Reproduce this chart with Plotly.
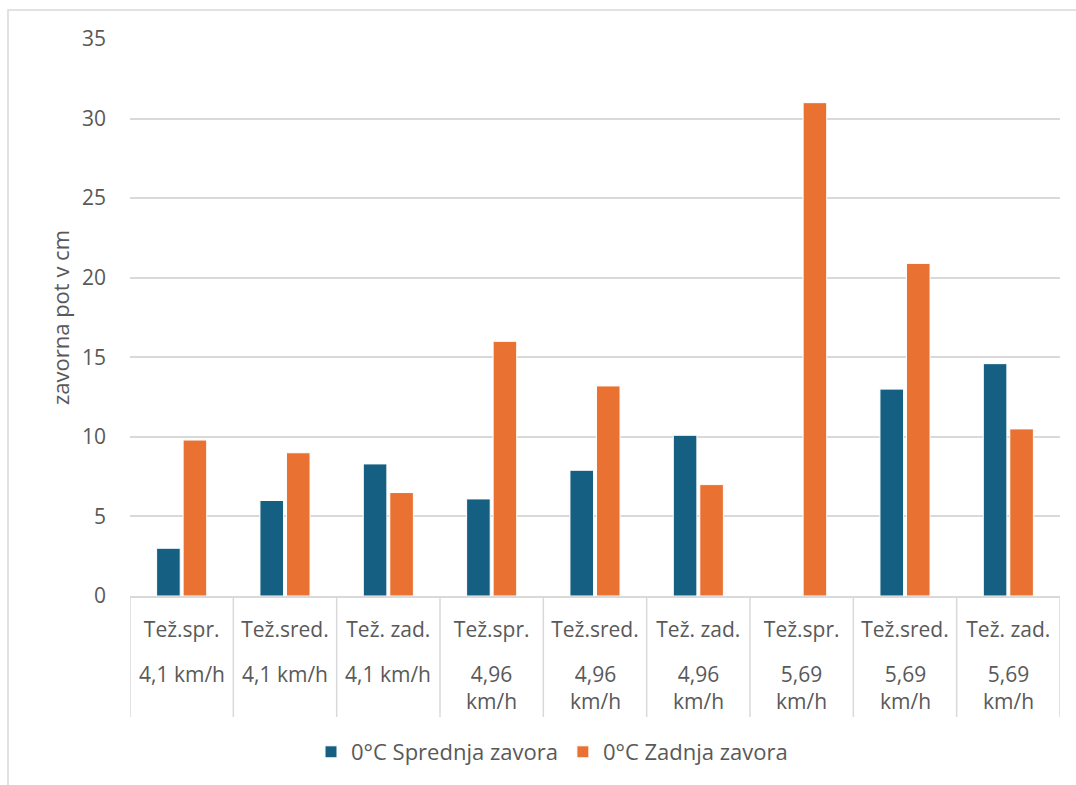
import plotly.graph_objects as go

categories = ["Tež.spr.", "Tež.sred.", "Tež. zad.", "Tež.spr.", "Tež.sred.", "Tež. zad.", "Tež.spr.", "Tež.sred.", "Tež. zad."]
speeds = ["4,1 km/h", "4,1 km/h", "4,1 km/h", "4,96<br>km/h", "4,96<br>km/h", "4,96<br>km/h", "5,69<br>km/h", "5,69<br>km/h", "5,69<br>km/h"]
front = [3.0, 6.0, 8.3, 6.1, 7.9, 10.1, None, 13.0, 14.6]
rear = [9.8, 9.0, 6.5, 16.0, 13.2, 7.0, 31.0, 20.9, 10.5]
series_names = ["0°C Sprednja zavora", "0°C Zadnja zavora"]
y_title = "zavorna pot v cm"
y_ticks = [0, 5, 10, 15, 20, 25, 30, 35]

x_idx = list(range(len(categories)))

W, H = 1076, 785
L, R, T, B = 130, 16, 39, 189
pw, ph = W - L - R, H - T - B

FONT = "Open Sans"
FS = 21
TXT = "#595959"
GRID = "#d9d9d9"

fig = go.Figure()
fig.add_trace(go.Bar(x=x_idx, y=front, name=series_names[0],
                     marker=dict(color="#156082", line=dict(color="white", width=1))))
fig.add_trace(go.Bar(x=x_idx, y=rear, name=series_names[1],
                     marker=dict(color="#E97132", line=dict(color="white", width=1))))

shapes = []
# category dividers below the axis
for i in range(len(categories) + 1):
    shapes.append(dict(type="line", xref="x", yref="paper",
                       x0=i - 0.5, x1=i - 0.5, y0=0, y1=-(717 - 596) / ph,
                       line=dict(color=GRID, width=1.5)))
# outer chart border
shapes.append(dict(type="rect", xref="paper", yref="paper",
                   x0=(8 - L) / pw, x1=(1090 - L) / pw,
                   y0=-(800 - (H - B)) / ph, y1=1 + (T - 10) / ph,
                   line=dict(color=GRID, width=1.5), fillcolor="rgba(0,0,0,0)", layer="below"))

# second row of category labels (speed)
annotations = []
for i, s in zip(x_idx, speeds):
    annotations.append(dict(x=i, xref="x", y=-(658 - (H - B)) / ph, yref="paper",
                            text=s, showarrow=False, xanchor="center", yanchor="top",
                            align="center", font=dict(family=FONT, size=FS, color=TXT)))

fig.update_layout(
    width=W, height=H,
    margin=dict(l=L, r=R, t=T, b=B),
    paper_bgcolor="white", plot_bgcolor="white",
    barmode="group", bargap=0.487, bargroupgap=0.11,
    font=dict(family=FONT, size=FS, color=TXT),
    showlegend=True,
    legend=dict(orientation="h", x=(552 - L) / pw, xanchor="center",
                y=-(752 - (H - B)) / ph, yanchor="middle",
                font=dict(family=FONT, size=22, color=TXT),
                itemwidth=30, traceorder="normal"),
    xaxis=dict(tickmode="array", tickvals=x_idx, ticktext=categories,
               range=[-0.5, len(categories) - 0.5],
               showgrid=False, showline=True, linecolor=GRID, linewidth=1.5,
               ticks="", ticklabelstandoff=14, tickfont=dict(family=FONT, size=FS, color=TXT),
               zeroline=False),
    yaxis=dict(range=[0, 35], tickvals=y_ticks, showgrid=True, gridcolor=GRID, gridwidth=1.5,
               zeroline=False, showline=False, ticks="", ticklabelstandoff=23,
               tickfont=dict(family=FONT, size=FS, color=TXT),
               title=dict(text=y_title, font=dict(family=FONT, size=22, color=TXT), standoff=6)),
    shapes=shapes,
    annotations=annotations,
)

fig.write_html("out.html")
